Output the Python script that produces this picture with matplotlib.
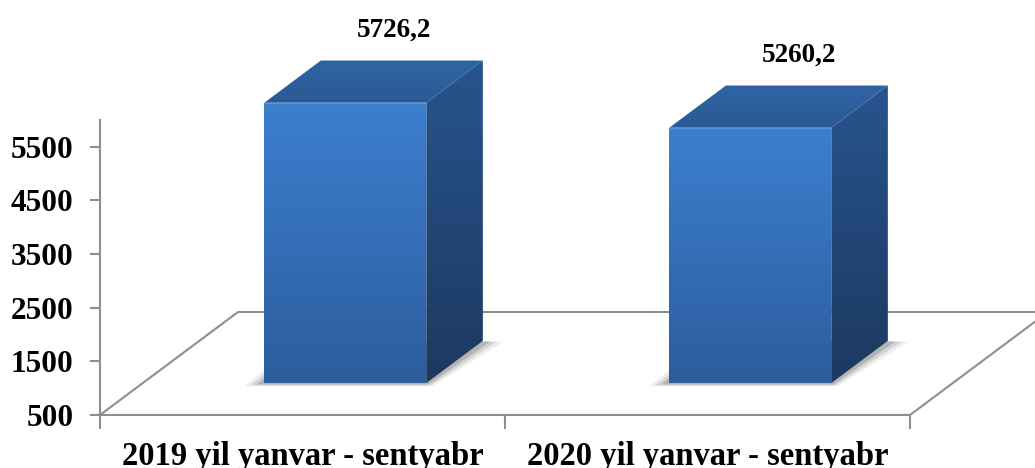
import numpy as np
import matplotlib.pyplot as plt
from matplotlib.patches import Polygon
from matplotlib.colors import LinearSegmentedColormap

categories = ["2019 yil yanvar - sentyabr", "2020 yil yanvar - sentyabr"]
values = [5726.2, 5260.2]
value_labels = ["5726,2", "5260,2"]
y_ticks = [500, 1500, 2500, 3500, 4500, 5500]
base = 500
y_top = 6000

plt.rcParams['font.family'] = ['Liberation Serif', 'DejaVu Serif']
plt.rcParams['font.weight'] = 'bold'

W, H = 1035, 468
fig = plt.figure(figsize=(W / 100, H / 100), dpi=100)
ax = fig.add_axes([100 / W, 53 / H, 935 / W, 415 / H])

px_x = 405.0            # pixels per category
px_y = 295.0 / 5500     # pixels per value unit
xlim = (-0.5, -0.5 + 935 / px_x)
ylim = (base, base + 415 / px_y)

# depth of the 3d floor in data units
dep_x = 138 / px_x
dep_y = 103 / px_y

grey = '#8e8e8e'


def face(pts, c_top, c_bot, z=3):
    poly = Polygon(pts, closed=True, facecolor='none', edgecolor='none', zorder=z)
    ax.add_patch(poly)
    xs = [p[0] for p in pts]
    ys = [p[1] for p in pts]
    cmap = LinearSegmentedColormap.from_list('g', [c_bot, c_top])
    grad = np.linspace(0, 1, 256).reshape(-1, 1)
    im = ax.imshow(grad, cmap=cmap, origin='lower', aspect='auto',
                   extent=[min(xs), max(xs), min(ys), max(ys)], zorder=z)
    im.set_clip_path(poly)


# floor
x0, x1 = -0.5, 1.5
ax.plot([x0, x0 + dep_x, xlim[1] + 1], [base, base + dep_y, base + dep_y],
        color=grey, lw=1.5, zorder=1)
ax.plot([x1, x1 + dep_x], [base, base + dep_y], color=grey, lw=1.5, zorder=1)

# bars
hw = 0.2
f0, f1 = 0.31, 0.72
for i, v in enumerate(values):
    xl = i - hw + f0 * dep_x
    xr = i + hw + f0 * dep_x
    yb = base + f0 * dep_y
    yt = v + f0 * dep_y
    ddx = (f1 - f0) * dep_x
    ddy = (f1 - f0) * dep_y

    # soft shadow
    for k, a in zip([0.05, 0.035, 0.02], [0.09, 0.14, 0.22]):
        sh = [(xl - k, yb - k * 1200), (xr + k * 0.3, yb - k * 1200),
              (xr + ddx + k, yb + ddy - k * 400), (xl + ddx - k, yb + ddy)]
        ax.add_patch(Polygon(sh, closed=True, facecolor='#404040',
                             edgecolor='none', alpha=a, zorder=2))

    face([(xl, yb), (xr, yb), (xr, yt), (xl, yt)], '#3c7fd0', '#2c5d9d')
    face([(xr, yb), (xr + ddx, yb + ddy), (xr + ddx, yt + ddy), (xr, yt)],
         '#28548d', '#1c3960')
    face([(xl, yt), (xr, yt), (xr + ddx, yt + ddy), (xl + ddx, yt + ddy)],
         '#2f64a3', '#2a5a94')
    ax.plot([xl, xr], [yt, yt], color='#5a94d8', lw=1, zorder=4)

    ax.text(i + 0.225, v + f1 * dep_y + 575, value_labels[i],
            ha='center', va='center', fontsize=19.5, fontweight='bold')

ax.set_xlim(*xlim)
ax.set_ylim(*ylim)

for s in ['top', 'right']:
    ax.spines[s].set_visible(False)
ax.spines['left'].set_bounds(base, y_top)
ax.spines['bottom'].set_bounds(x0, x1)
for s in ['left', 'bottom']:
    ax.spines[s].set_color(grey)
    ax.spines[s].set_linewidth(1.5)

ax.set_yticks(y_ticks)
ax.set_yticklabels([str(t) for t in y_ticks])
ax.tick_params(axis='y', length=7, width=1.5, color=grey, pad=12,
               labelsize=22.5)
ax.set_xticks([0, 1])
ax.set_xticklabels(categories)
ax.set_xticks([x0, 0.5, x1], minor=True)
ax.tick_params(axis='x', which='major', length=0, pad=19, labelsize=23.5)
ax.tick_params(axis='x', which='minor', length=10, width=1.5, color=grey)
for lab in ax.get_xticklabels() + ax.get_yticklabels():
    lab.set_fontweight('bold')

fig.savefig('out.png', dpi=100)
